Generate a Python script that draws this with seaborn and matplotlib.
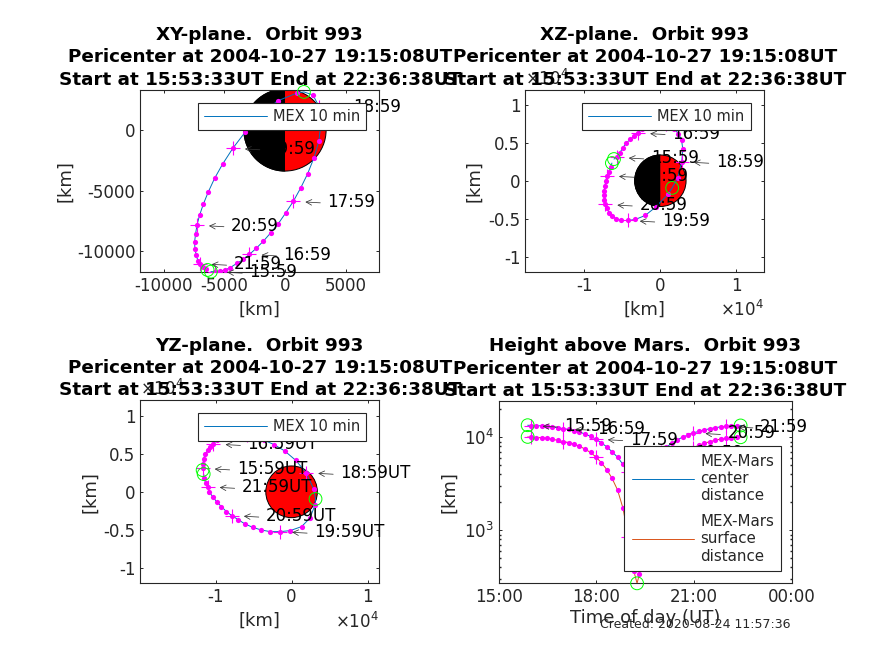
import numpy as np
import pandas as pd
import matplotlib
matplotlib.use("Agg")
import matplotlib.pyplot as plt
from matplotlib.patches import Wedge, Circle
from matplotlib.ticker import FuncFormatter, NullFormatter, LogLocator
import seaborn as sns

orbit = "Orbit 993"
peri_line = "Pericenter at 2004-10-27 19:15:08UT"
span_line = "Start at 15:53:33UT End at 22:36:38UT"
created = "Created: 2020-08-24 11:57:36"
mars_radius = 3390

# hours of day: start, 10-min samples, pericenter, end
t_hours = [15.89, 15.98, 16.15, 16.32, 16.48, 16.65, 16.82, 16.98, 17.15, 17.32, 17.48, 17.65, 17.82, 17.98,
           18.15, 18.32, 18.48, 18.65, 18.82, 18.98, 19.15, 19.25, 19.32, 19.48, 19.65, 19.82, 19.98,
           20.15, 20.32, 20.48, 20.65, 20.82, 20.98, 21.15, 21.32, 21.48, 21.65, 21.82, 21.98, 22.15, 22.32, 22.43]
x_km = [-6110, -5754, -5343, -4932, -4521, -3973, -3425, -2932, -2384, -1781, -1178, -548, 55, 685,
        1288, 1863, 2384, 2795, 2959, 2822, 2300, 1560, 1010, -600, -2000, -3300, -4302,
        -5151, -5809, -6329, -6740, -7042, -7261, -7371, -7453, -7425, -7316, -7179, -7042, -6768, -6549, -6384]
y_km = [-11700, -11700, -11645, -11563, -11371, -11015, -10686, -10275, -9782, -9179, -8494, -7727, -6850, -5891,
        -4795, -3617, -2302, -904, 548, 1918, 2900, 3150, 3070, 2411, 1317, -190, -1507,
        -2822, -4000, -5124, -6138, -7042, -7864, -8576, -9234, -9809, -10330, -10823, -11042, -11316, -11508, -11563]
z_km = [2854, 3073, 3688, 4346, 4961, 5444, 5883, 6278, 6848, 7244, 7507, 7639, 7639, 7507,
        7200, 6761, 6190, 5356, 4127, 2502, 400, -940, -1770, -3450, -4566, -5092, -5224,
        -5224, -5005, -4653, -4214, -3644, -3117, -2590, -1932, -1361, -702, -44, 658, 1185, 1800, 2327]
center_km = [13500, 13394, 13331, 13300, 13202, 12911, 12669, 12394, 12178, 11832, 11397, 10881, 10262, 9570,
             8746, 7893, 7021, 6109, 5107, 4231, 3756, 3659, 3726, 4266, 5154, 6175, 6934,
             7860, 8645, 9385, 10045, 10607, 11146, 11599, 12021, 12375, 12677, 12985, 13113, 13238, 13362, 13413]
surface_km = [10110, 10004, 9941, 9910, 9812, 9521, 9279, 9004, 8788, 8442, 8007, 7491, 6872, 6180,
              5356, 4503, 3631, 2719, 1717, 841, 366, 269, 336, 876, 1764, 2785, 3544,
              4470, 5255, 5995, 6655, 7217, 7756, 8209, 8631, 8985, 9287, 9595, 9723, 9848, 9972, 10023]
start_i, peri_i, end_i = 0, 21, 41
hour_i = [1, 7, 13, 19, 26, 32, 38]
hour_names = ["15:59", "16:59", "17:59", "18:59", "19:59", "20:59", "21:59"]

line_blue = "#0072BD"
line_orange = "#D95319"
magenta = "#FF00FF"
green = "#00FF00"
ink = "#262626"

W, H = 874, 655
sns.set_theme(style="ticks", rc={
    "font.family": "DejaVu Sans", "axes.unicode_minus": False,
    "axes.edgecolor": ink, "axes.linewidth": 0.8, "text.color": "black",
    "xtick.direction": "in", "ytick.direction": "in", "xtick.top": True, "ytick.right": True,
    "xtick.major.size": 2.4, "ytick.major.size": 2.4, "xtick.major.width": 0.7, "ytick.major.width": 0.7,
    "xtick.minor.size": 1.4, "ytick.minor.size": 1.4,
    "xtick.color": ink, "ytick.color": ink, "xtick.labelsize": 12, "ytick.labelsize": 12,
    "axes.labelcolor": ink, "axes.labelsize": 13,
})
fig = plt.figure(figsize=(W / 100, H / 100), dpi=100)


def make_axes(left, right, top, bottom):
    return fig.add_axes([left / W, 1 - bottom / H, (right - left) / W, (bottom - top) / H])


ax_xy = make_axes(140.3, 379, 89.5, 272)
ax_xz = make_axes(525.3, 764.3, 89.5, 272)
ax_yz = make_axes(140.3, 379, 400.3, 583.3)
ax_h = make_axes(498.7, 791.7, 400.7, 583.3)

orbit_df = pd.DataFrame({"t": t_hours, "x": x_km, "y": y_km, "z": z_km, "c": center_km, "s": surface_km})
dots_df = orbit_df.drop(index=[start_i, peri_i, end_i])
hours_df = orbit_df.iloc[hour_i]
green_df = orbit_df.iloc[[start_i, peri_i, end_i]]


def draw_marks(ax, a, b, color=line_blue, label=None):
    sns.lineplot(data=orbit_df, x=a, y=b, sort=False, estimator=None, color=color, lw=0.7, ax=ax, zorder=3, label=label)
    sns.scatterplot(data=dots_df, x=a, y=b, color=magenta, s=14, linewidth=0, ax=ax, zorder=4, legend=False)
    sns.scatterplot(data=hours_df, x=a, y=b, color=magenta, marker="+", s=105, linewidth=0.8, ax=ax, zorder=4, legend=False)
    ax.scatter(green_df[a], green_df[b], s=85, facecolors="none", edgecolors=green, linewidths=0.7, zorder=5, clip_on=False)


def draw_mars(ax, split):
    if split:
        ax.add_patch(Wedge((0, 0), mars_radius, 90, 270, facecolor="black", edgecolor="black", lw=0.7, zorder=2))
        ax.add_patch(Wedge((0, 0), mars_radius, -90, 90, facecolor="red", edgecolor="none", zorder=2))
        ax.add_patch(Circle((0, 0), mars_radius, facecolor="none", edgecolor="black", lw=0.7, zorder=2))
    else:
        ax.add_patch(Circle((0, 0), mars_radius, facecolor="red", edgecolor="black", lw=0.7, zorder=2))


def hour_labels(ax, a, b, suffix=""):
    px = 72 / 100
    for (_, row), name in zip(hours_df.iterrows(), hour_names):
        xy = (row[a], row[b])
        ax.annotate(name + suffix, xy=xy, xytext=(34 * px, -0.5 * px), textcoords="offset points",
                    fontsize=12, va="center", ha="left", color="black", zorder=6, annotation_clip=False)
        ax.annotate("", xy=xy, xycoords="data", xytext=(27 * px, -1.5 * px), textcoords="offset points",
                    arrowprops=dict(arrowstyle="->,head_length=0.4,head_width=0.2", lw=0.55, color="#333333",
                                    shrinkA=0, shrinkB=12 * px, mutation_scale=10),
                    zorder=6, annotation_clip=False)


def titled(ax, first):
    ax.set_title(first + ".  " + orbit + "\n" + peri_line + "\n" + span_line,
                 fontsize=13.2, fontweight="bold", pad=3.5, linespacing=1.3, color="black")


def box_legend(ax, left, top, fontsize=10.5, labelspacing=0.5, handlelength=4.3, borderpad=0.42):
    box = ax.get_position()
    x0 = (left / W - box.x0) / box.width
    y1 = ((1 - top / H) - box.y0) / box.height
    leg = ax.legend(loc="upper left", bbox_to_anchor=(x0, y1), fontsize=fontsize, frameon=True, fancybox=False,
                    framealpha=1, edgecolor=ink, borderaxespad=0, labelcolor=ink, handlelength=handlelength,
                    handletextpad=0.42, borderpad=borderpad, labelspacing=labelspacing)
    leg.get_frame().set_linewidth(0.8)
    leg.set_zorder(20)
    return leg


sci_fmt = FuncFormatter(lambda v, _: f"{v / 1e4:g}")
plain_fmt = FuncFormatter(lambda v, _: f"{v:g}")
times10 = r"$\times 10^{4}$"

# XY
draw_mars(ax_xy, True)
draw_marks(ax_xy, "x", "y", label="MEX 10 min")
hour_labels(ax_xy, "x", "y")
ax_xy.set_xlim(-11930, 7750)
ax_xy.set_ylim(-11730, 3350)
ax_xy.set_xticks([-10000, -5000, 0, 5000])
ax_xy.set_yticks([-10000, -5000, 0])
ax_xy.xaxis.set_major_formatter(plain_fmt)
ax_xy.yaxis.set_major_formatter(plain_fmt)
ax_xy.set_xlabel("[km]")
ax_xy.set_ylabel("[km]", labelpad=1.8)
titled(ax_xy, "XY-plane")
box_legend(ax_xy, 197.7, 102.7)

# XZ
draw_mars(ax_xz, True)
draw_marks(ax_xz, "x", "z", label="MEX 10 min")
hour_labels(ax_xz, "x", "z")
ax_xz.set_xlim(-17800, 13700)
ax_xz.set_ylim(-12000, 12000)
ax_xz.set_xticks([-10000, 0, 10000])
ax_xz.set_yticks([-10000, -5000, 0, 5000, 10000])
ax_xz.xaxis.set_major_formatter(sci_fmt)
ax_xz.yaxis.set_major_formatter(sci_fmt)
ax_xz.set_xlabel("[km]")
ax_xz.set_ylabel("[km]", labelpad=3.3)
titled(ax_xz, "XZ-plane")
box_legend(ax_xz, 582.3, 102.5)

# YZ
draw_mars(ax_yz, False)
draw_marks(ax_yz, "y", "z", label="MEX 10 min")
hour_labels(ax_yz, "y", "z", "UT")
ax_yz.set_xlim(-19900, 11500)
ax_yz.set_ylim(-12000, 12000)
ax_yz.set_xticks([-10000, 0, 10000])
ax_yz.set_yticks([-10000, -5000, 0, 5000, 10000])
ax_yz.xaxis.set_major_formatter(sci_fmt)
ax_yz.yaxis.set_major_formatter(sci_fmt)
ax_yz.set_xlabel("[km]")
ax_yz.set_ylabel("[km]", labelpad=2.6)
titled(ax_yz, "YZ-plane")
box_legend(ax_yz, 197.7, 413.3)

# scale-factor labels of the two sci axes
for ax in (ax_xz, ax_yz):
    ax.text(1.0, -0.21, times10, transform=ax.transAxes, fontsize=12, color=ink, ha="right", va="center")
    ax.text(0.0, 1.06, times10, transform=ax.transAxes, fontsize=12, color=ink, ha="left", va="center")

# Height
draw_marks(ax_h, "t", "c", label="MEX-Mars\ncenter\ndistance")
draw_marks(ax_h, "t", "s", color=line_orange, label="MEX-Mars\nsurface\ndistance")
hour_labels(ax_h, "t", "c")
ax_h.set_yscale("log")
ax_h.set_xlim(15, 24)
ax_h.set_ylim(10 ** 2.43, 10 ** 4.394)
ax_h.set_xticks([15, 18, 21, 24])
ax_h.set_xticklabels(["15:00", "18:00", "21:00", "00:00"])
ax_h.yaxis.set_minor_locator(LogLocator(base=10, subs=np.arange(2, 10), numticks=10))
ax_h.yaxis.set_minor_formatter(NullFormatter())
ax_h.set_xlabel("Time of day (UT)", labelpad=2)
ax_h.set_ylabel("[km]")
titled(ax_h, "Height above Mars")
box_legend(ax_h, 624.3, 446, fontsize=10.8, labelspacing=0.7, handlelength=4.13, borderpad=0.5)

fig.text(791 / W, 1 - 624 / H, created, fontsize=9, ha="right", va="center", color=ink)
fig.savefig("out.png", dpi=100)
